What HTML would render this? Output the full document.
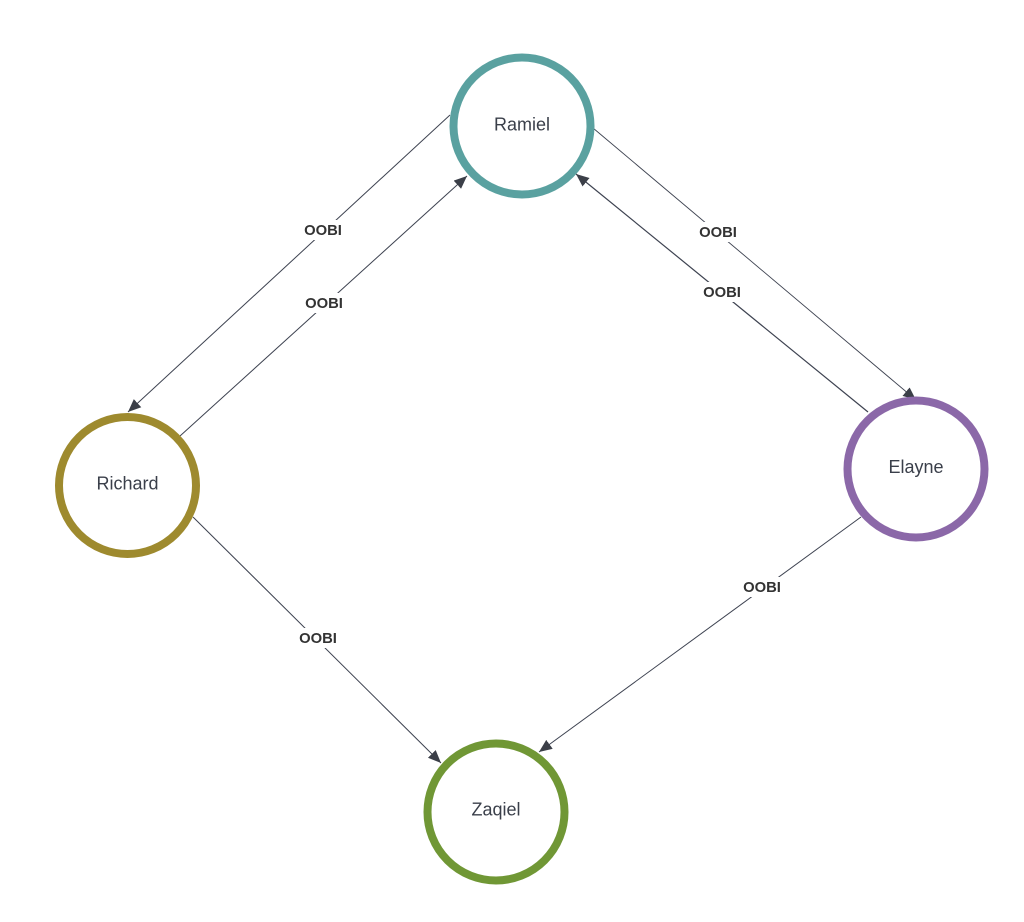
<!DOCTYPE html>
<html>
<head>
<meta charset="utf-8">
<style>
html,body{margin:0;padding:0;background:#fff;}
svg{display:block;}
.n{font-family:"Liberation Sans",Arial,sans-serif;font-size:18px;fill:#3a3f4a;text-anchor:middle;}
.l{font-family:"Liberation Sans",Arial,sans-serif;font-size:14.8px;font-weight:bold;fill:#333;text-anchor:middle;}
</style>
</head>
<body>
<svg width="1024" height="922" viewBox="0 0 1024 922" xmlns="http://www.w3.org/2000/svg">
<defs>
<marker id="a" markerUnits="userSpaceOnUse" markerWidth="14" markerHeight="12" refX="13" refY="5.5" orient="auto">
<path d="M0,0 L13,5.5 L0,11 Z" fill="#3b3f48"/>
</marker>
</defs>
<g stroke="#3d4250" stroke-width="1" fill="none">
<line x1="450" y1="115" x2="128" y2="412" marker-end="url(#a)"/>
<line x1="180" y1="436" x2="467" y2="176" marker-end="url(#a)"/>
<line x1="593" y1="128" x2="916" y2="400" marker-end="url(#a)" stroke-width="0.9"/>
<line x1="868" y1="412" x2="576" y2="174" marker-end="url(#a)" stroke-width="1.2"/>
<line x1="193" y1="517" x2="441" y2="763" marker-end="url(#a)"/>
<line x1="861" y1="517" x2="539" y2="752" marker-end="url(#a)"/>
</g>
<g fill="#fff">
<rect x="301" y="220" width="44" height="20"/>
<rect x="302" y="293" width="44" height="20"/>
<rect x="696" y="222" width="44" height="20"/>
<rect x="700" y="282" width="44" height="20"/>
<rect x="296" y="628" width="44" height="20"/>
<rect x="740" y="577" width="44" height="20"/>
</g>
<text class="l" x="323" y="235">OOBI</text>
<text class="l" x="324" y="308">OOBI</text>
<text class="l" x="718" y="237">OOBI</text>
<text class="l" x="722" y="297">OOBI</text>
<text class="l" x="318" y="643">OOBI</text>
<text class="l" x="762" y="592">OOBI</text>
<g fill="#fff" stroke-width="8">
<circle cx="522" cy="126" r="68.5" stroke="#5aa1a0"/>
<circle cx="127.5" cy="485.5" r="68.5" stroke="#9e8a2e"/>
<circle cx="916" cy="469" r="68.5" stroke="#8b68a8"/>
<circle cx="496" cy="812" r="68.5" stroke="#709735"/>
</g>
<text class="n" x="522" y="130.5">Ramiel</text>
<text class="n" x="127.5" y="489.5">Richard</text>
<text class="n" x="916" y="473">Elayne</text>
<text class="n" x="496" y="815.5">Zaqiel</text>
</svg>
</body>
</html>
